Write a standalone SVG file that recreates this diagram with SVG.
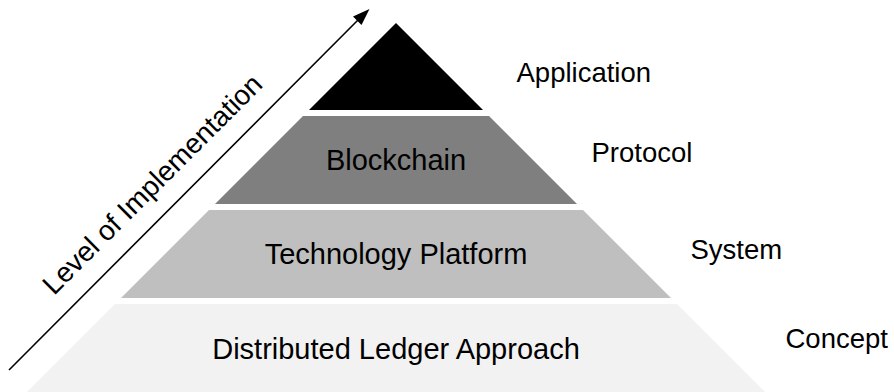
<svg xmlns="http://www.w3.org/2000/svg" width="894" height="392" viewBox="0 0 894 392">
  <style>
    .t { font-family: "Liberation Sans", Arial, sans-serif; fill: #000; }
    .inner { font-size: 29px; text-anchor: middle; }
    .side { font-size: 27.5px; }
    .axis { font-size: 28px; text-anchor: middle; }
  </style>
  <rect x="0" y="0" width="894" height="392" fill="#ffffff"/>
  <g id="layer-application">
    <polygon points="396,23 483,110 309,110" fill="#000000"/>
    <text class="t side" x="516.5" y="82">Application</text>
  </g>
  <g id="layer-blockchain">
    <polygon points="303,116 489,116 577,204 215,204" fill="#7f7f7f"/>
    <text class="t inner" x="396" y="169.5">Blockchain</text>
    <text class="t side" x="591.5" y="162">Protocol</text>
  </g>
  <g id="layer-platform">
    <polygon points="209,210 583,210 671,298 121,298" fill="#bfbfbf"/>
    <text class="t inner" x="396" y="263.5">Technology Platform</text>
    <text class="t side" x="690.5" y="259">System</text>
  </g>
  <g id="layer-approach">
    <polygon points="115,304 677,304 765,392 27,392" fill="#f2f2f2"/>
    <text class="t inner" x="396" y="358.5">Distributed Ledger Approach</text>
    <text class="t side" x="785.5" y="347.5">Concept</text>
  </g>
  <g id="connectors">
    <line x1="9" y1="370" x2="359" y2="19" stroke="#000" stroke-width="1.6"/>
    <polygon points="369.5,9 361.5,25 353,16.5" fill="#000"/>
  </g>
  <g id="axis-label">
    <text class="t axis" transform="translate(159,191) rotate(-45)" x="0" y="0">Level of Implementation</text>
  </g>
</svg>
